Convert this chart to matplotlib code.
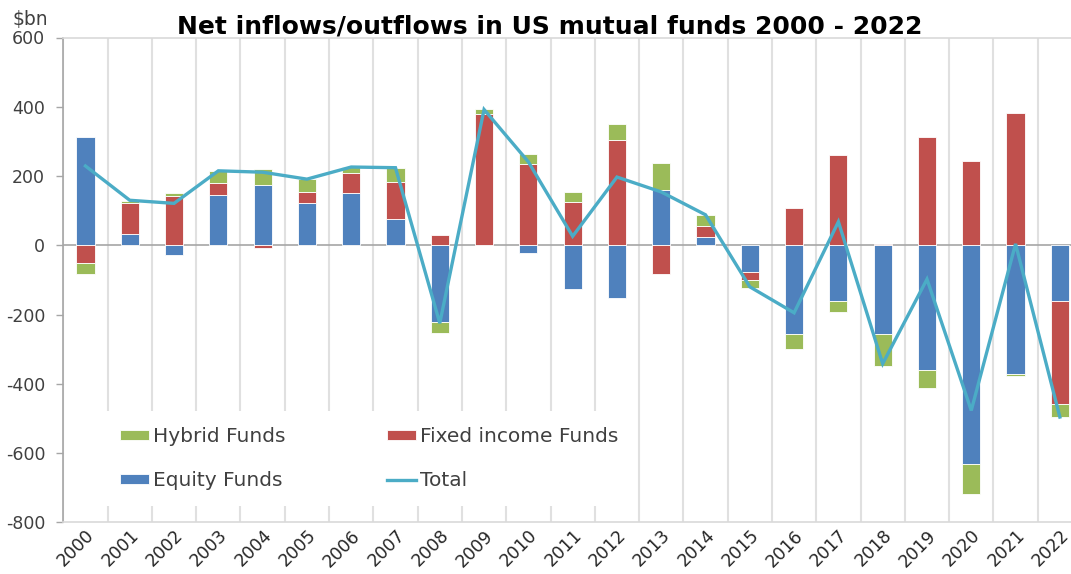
import numpy as np
import matplotlib
matplotlib.use("Agg")
import matplotlib.pyplot as plt

years = [str(y) for y in range(2000, 2023)]
equity = [314, 32, -29, 144, 173, 123, 150, 75, -223, 0, -21, -127, -151, 160, 25, -76, -257, -161, -255, -360, -632, -372, -161]
fixed = [-50, 89, 142, 35, -7, 32, 58, 109, 29, 378, 236, 126, 303, -82, 31, -25, 107, 261, 3, 314, 242, 383, -296]
hybrid = [-34, 7, 8, 36, 46, 36, 19, 40, -29, 15, 29, 29, 46, 77, 32, -21, -43, -33, -93, -51, -87, -5, -38]
total = [229, 130, 121, 215, 211, 191, 226, 224, -225, 392, 241, 26, 197, 154, 88, -120, -195, 68, -342, -98, -477, 4, -496]
y_ticks = [-800, -600, -400, -200, 0, 200, 400, 600]

c_eq = "#4F81BD"
c_fx = "#C0504D"
c_hy = "#9BBB59"
c_tot = "#4BACC6"

W, H = 1071, 574
fig = plt.figure(figsize=(W / 100, H / 100), dpi=100)
ax = fig.add_axes([63.3 / W, (H - 522.3) / H, (1082 - 63.3) / W, (522.3 - 37.5) / H])

x = np.arange(len(years))
pos = np.zeros(len(years))
neg = np.zeros(len(years))
handles = {}
for name, vals, col in [("Equity Funds", equity, c_eq), ("Fixed income Funds", fixed, c_fx), ("Hybrid Funds", hybrid, c_hy)]:
    v = np.array(vals, dtype=float)
    bottom = np.where(v >= 0, pos, neg)
    b = ax.bar(x, v, width=0.41, bottom=bottom, color=col, edgecolor="#ffffff", linewidth=0.6, zorder=3, label=name)
    handles[name] = b
    pos = pos + np.where(v >= 0, v, 0)
    neg = neg + np.where(v < 0, v, 0)

ln, = ax.plot(x, total, color=c_tot, lw=2.4, zorder=4, label="Total", solid_joinstyle="miter")

ax.set_xlim(-0.5, len(years) - 0.5)
ax.set_ylim(-800, 600)
ax.set_yticks(y_ticks)
ax.set_yticklabels([str(t) for t in y_ticks], fontsize=12.5, color="#404040")
ax.set_xticks(x)
ax.set_xticklabels(years, rotation=45, ha="right", rotation_mode="anchor", fontsize=12.5, color="#262626")
ax.tick_params(axis="x", length=0, pad=3)
ax.tick_params(axis="y", length=5, color="#A6A6A6", width=1, pad=8)
ax.set_xticks(np.arange(-0.5, len(years), 1), minor=True)
ax.tick_params(axis="x", which="minor", length=0)
ax.grid(which="minor", axis="x", color="#E0E0E0", lw=1.5, zorder=0)
ax.axhline(0, color="#A6A6A6", lw=1.2, zorder=2)

for s in ["top", "bottom"]:
    ax.spines[s].set_color("#D9D9D9")
    ax.spines[s].set_linewidth(1.2)
ax.spines["left"].set_color("#A6A6A6")
ax.spines["left"].set_linewidth(1.2)
ax.spines["right"].set_visible(False)

leg = ax.legend([handles["Hybrid Funds"], handles["Equity Funds"], handles["Fixed income Funds"], ln],
                ["Hybrid Funds", "Equity Funds", "Fixed income Funds", "Total"],
                ncol=2, loc="upper left", bbox_to_anchor=((104 - 63.3) / 1018.7, (522.3 - 411) / 484.8),
                frameon=True, fancybox=False, framealpha=1, edgecolor="none", facecolor="white",
                fontsize=14.5, handlelength=1.45, handleheight=0.4, handletextpad=0.2,
                columnspacing=5.0, labelspacing=1.25, borderpad=0.8, borderaxespad=0)
for t in leg.get_texts():
    t.set_color("#404040")
leg.set_zorder(5)

fig.text(550 / W, 1 - 27 / H, "Net inflows/outflows in US mutual funds 2000 - 2022", ha="center", va="center",
         fontsize=18, fontweight="bold", color="#000000")
fig.text(13 / W, 1 - 20 / H, "$bn", ha="left", va="center", fontsize=13.5, color="#404040")

fig.savefig("out.png", dpi=100)
